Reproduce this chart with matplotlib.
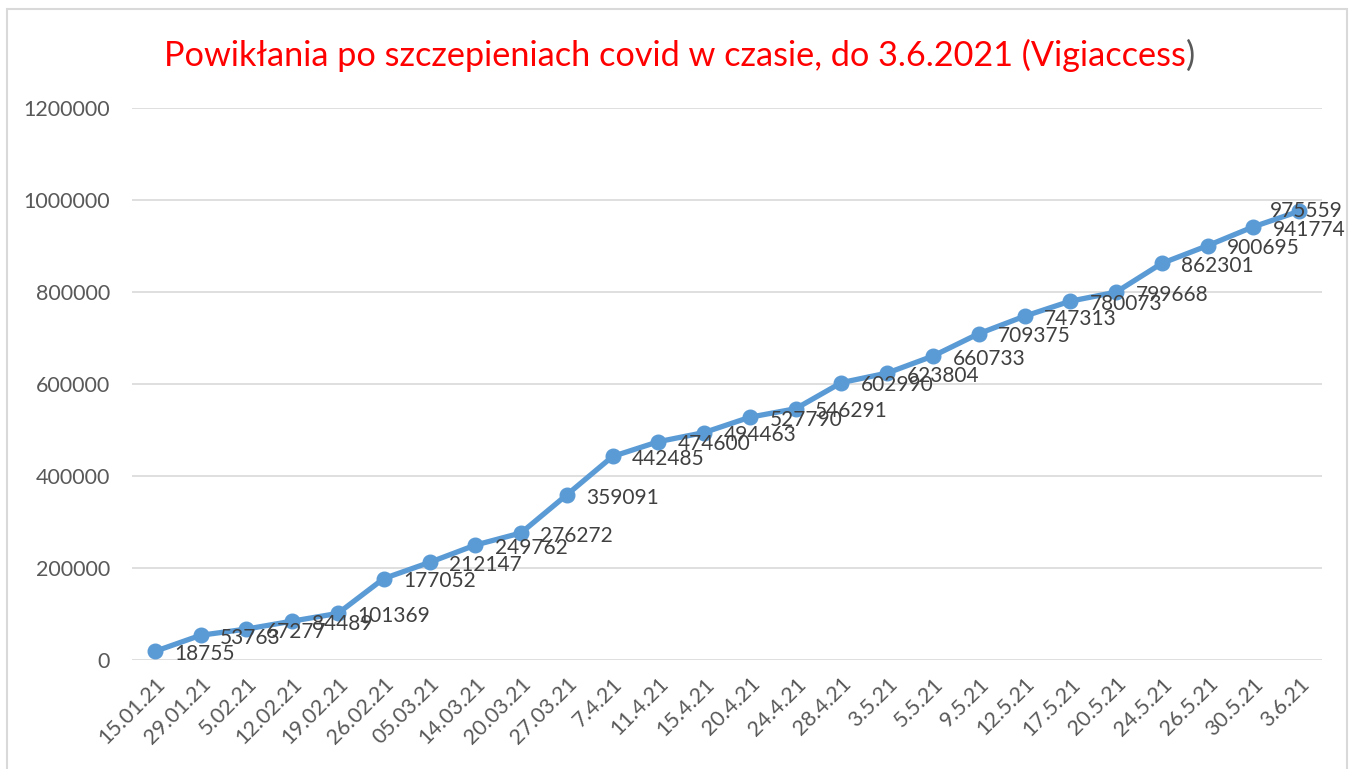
import matplotlib.pyplot as plt
from matplotlib.patches import Rectangle

# daty raportow (etykiety osi X)
dates = ["15.01.21", "29.01.21", "5.02.21", "12.02.21", "19.02.21", "26.02.21",
         "05.03.21", "14.03.21", "20.03.21", "27.03.21", "7.4.21", "11.4.21",
         "15.4.21", "20.4.21", "24.4.21", "28.4.21", "3.5.21", "5.5.21",
         "9.5.21", "12.5.21", "17.5.21", "20.5.21", "24.5.21", "26.5.21",
         "30.5.21", "3.6.21"]

# liczba zgloszen (Vigiaccess)
reports = [18755, 53763, 67277, 84489, 101369, 177052, 212147, 249762, 276272,
           359091, 442485, 474600, 494463, 527790, 546291, 602990, 623804,
           660733, 709375, 747313, 780073, 799668, 862301, 900695, 941774,
           975559]

y_ticks = [0, 200000, 400000, 600000, 800000, 1000000, 1200000]

title = "Powikłania po szczepieniach covid w czasie, do 3.6.2021 (Vigiaccess"

plt.rcParams['font.family'] = ['Lato', 'DejaVu Sans']

fig = plt.figure(figsize=(13.54, 7.69), dpi=100)
ax = fig.add_axes([132 / 1354, 1 - 660 / 769, (1322 - 132) / 1354, (660 - 108) / 769])

# ramka wykresu
fig.patches.append(Rectangle((7 / 1354, -0.1), 1340 / 1354, 1.1 - 9 / 769,
                             transform=fig.transFigure, fill=False,
                             edgecolor='#D9D9D9', lw=1.5))

x = list(range(len(dates)))
ax.plot(x, reports, color='#5B9BD5', lw=3.8, marker='o', markersize=10.5,
        solid_capstyle='round', solid_joinstyle='round', zorder=3)

for i, v in enumerate(reports):
    if i == len(reports) - 1:
        ax.annotate(str(v), (i, v), xytext=(5, 0), textcoords='offset points',
                    ha='center', va='center', fontsize=15, color='#404040', zorder=4)
    else:
        ax.annotate(str(v), (i, v), xytext=(14, -2), textcoords='offset points',
                    ha='left', va='center', fontsize=15, color='#404040', zorder=4)

ax.set_xlim(-0.5, len(dates) - 0.5)
ax.set_ylim(0, 1200000)
ax.set_yticks(y_ticks)
ax.set_yticklabels([str(t) for t in y_ticks])
ax.set_xticks(x)
ax.set_xticklabels(dates, rotation=45, ha='right', rotation_mode='anchor')
ax.tick_params(axis='both', length=0, labelsize=15.5, labelcolor='#595959')
ax.tick_params(axis='y', pad=16)
ax.tick_params(axis='x', pad=10)
ax.grid(axis='y', color='#D9D9D9', lw=1.2)
ax.set_axisbelow(True)
for s in ax.spines.values():
    s.set_visible(False)

t = fig.text(675 / 1354, 1 - 55 / 769, title, ha='center', va='center',
             fontsize=24.7, color='#FF0000')
ax.annotate(")", xy=(1, 0), xycoords=t, ha='left', va='bottom',
            fontsize=24.7, color='#595959')

fig.savefig('out.png', dpi=100)
